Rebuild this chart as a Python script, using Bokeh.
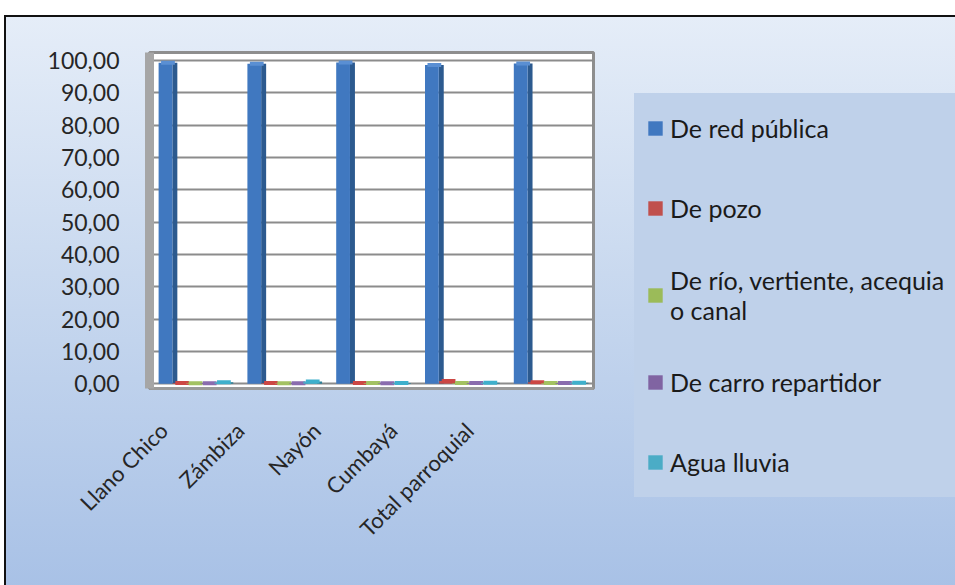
from math import pi
from bokeh.plotting import figure
from bokeh.models import (ColumnDataSource, Range1d, LinearAxis, FixedTicker,
                          CustomJSTickFormatter, Legend, LegendItem)
from bokeh.transform import dodge
from bokeh.embed import file_html
from bokeh.resources import INLINE

categories = ["Llano Chico", "Zámbiza", "Nayón", "Cumbayá", "Total parroquial"]
series_names = ["De red pública", "De pozo", "De río, vertiente, acequia\no canal",
                "De carro repartidor", "Agua lluvia"]
red_publica = [99.3, 99.0, 99.4, 98.6, 99.1]
pozo = [0.2, 0.2, 0.2, 0.8, 0.4]
rio = [0.1, 0.1, 0.2, 0.2, 0.2]
carro = [0.1, 0.1, 0.1, 0.2, 0.2]
lluvia = [0.4, 0.7, 0.2, 0.3, 0.3]
y_ticks = [0, 10, 20, 30, 40, 50, 60, 70, 80, 90, 100]

series_values = [red_publica, pozo, rio, carro, lluvia]
keys = ["red", "pozo", "rio", "carro", "lluvia"]
front_colors = ["#4078c0", "#c0504d", "#9bbb59", "#8064a2", "#4bacc6"]
side_colors = ["#2c5a8f", "#8e3431", "#71893e", "#5c4778", "#2f8199"]
cap_colors = ["#5a8fd3", "#cc4744", "#a3c262", "#8a6cae", "#3fb0cc"]
offsets = [-0.32, -0.16, -0.01, 0.15, 0.31]
bar_w = 0.155
side_w = 0.056

idx = list(range(len(categories)))
data = {"cat": categories, "idx": idx}
for k, v in zip(keys, series_values):
    data[k] = v
source = ColumnDataSource(data)

FONT = "Lato"
LEG_BG = "#bfd1ea"

p = figure(x_range=Range1d(-0.5, len(categories) - 0.5), y_range=Range1d(-1.5, 102.5),
           frame_width=444, frame_height=336, output_backend="svg", toolbar_location=None,
           x_axis_location=None, min_border_left=143, min_border_right=0,
           min_border_top=35, min_border_bottom=200,
           margin=(15, 0, 0, 4))
p.styles = {"background": "linear-gradient(#e5edf8 0%, #c9d9ef 45%, #a8c1e6 100%)",
            "border-left": "2px solid #111111", "border-top": "2px solid #111111"}
p.border_fill_color = None
p.background_fill_color = "white"
p.outline_line_color = "#8e8e8e"
p.outline_line_width = 3

p.ygrid.grid_line_color = "#8c8c8c"
p.ygrid.grid_line_width = 2
p.ygrid.ticker = FixedTicker(ticks=y_ticks)
p.xgrid.visible = False

yax = p.yaxis[0]
yax.ticker = FixedTicker(ticks=y_ticks)
yax.formatter = CustomJSTickFormatter(code="return tick.toFixed(2).replace('.', ',');")
yax.axis_line_color = "#a6a6a6"
yax.axis_line_width = 9
yax.major_tick_line_color = None
yax.minor_tick_line_color = None
yax.major_label_standoff = 24
yax.major_label_text_font = FONT
yax.major_label_text_font_size = "23px"
yax.major_label_text_color = "#262626"

# label axis on its own range so labels sit as in the reference
p.extra_x_ranges = {"lab": Range1d(-0.183, 5.621)}
xax = LinearAxis(x_range_name="lab", ticker=FixedTicker(ticks=idx),
                 major_label_overrides={i: c for i, c in zip(idx, categories)})
xax.major_label_orientation = pi / 4
xax.axis_line_color = "#9a9a9a"
xax.axis_line_width = 3
xax.major_tick_line_color = None
xax.minor_tick_line_color = None
xax.major_label_standoff = 32
xax.major_label_text_font = FONT
xax.major_label_text_font_size = "22px"
xax.major_label_text_color = "#262626"
p.add_layout(xax, "below")

items = []
for k, name, off, fc, sc, cc in zip(keys, series_names, offsets, front_colors, side_colors, cap_colors):
    p.vbar(x=dodge("idx", off + bar_w / 2 + side_w / 2), top=k, bottom=0,
           width=side_w, source=source, fill_color=sc, line_color=None)
    r = p.vbar(x=dodge("idx", off), top=k, bottom=0,
               width=bar_w, source=source, fill_color=fc, line_color=None)
    p.rect(x=dodge("idx", off + side_w / 2), y=k, width=bar_w,
           height=4, height_units="screen", source=source, fill_color=cc, line_color=None)
    items.append(LegendItem(label=name, renderers=[r]))

legend = Legend(items=items, location="top_left")
legend.background_fill_color = LEG_BG
legend.background_fill_alpha = 1
legend.border_line_color = LEG_BG
legend.border_line_width = 1
legend.padding = 11
legend.spacing = 34
legend.label_height = 46
legend.glyph_height = 18
legend.glyph_width = 18
legend.label_standoff = 6
legend.label_width = 273
legend.label_text_font = FONT
legend.label_text_font_size = "25px"
legend.label_text_line_height = 1.0
legend.label_text_color = "#1a1a1a"
legend.margin = 41
p.add_layout(legend, "right")

open("out.html", "w").write(file_html(p, INLINE))
